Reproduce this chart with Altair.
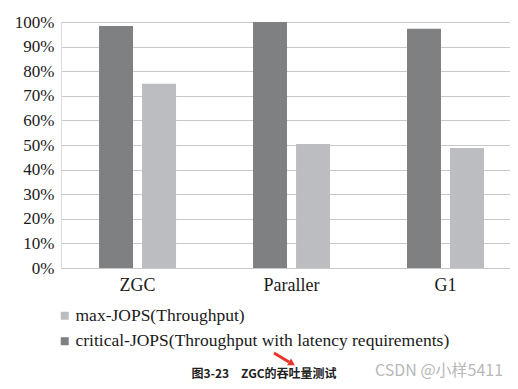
import altair as alt
import pandas as pd

categories = ["ZGC", "Paraller", "G1"]
series_names = ["max-JOPS(Throughput)", "critical-JOPS(Throughput with latency requirements)"]
max_jops = [0.749, 0.504, 0.488]
critical_jops = [0.984, 1.0, 0.973]
y_ticks = [0, 0.1, 0.2, 0.3, 0.4, 0.5, 0.6, 0.7, 0.8, 0.9, 1.0]
caption = "图3-23\u3000ZGC的吞吐量测试"
watermark = "CSDN @小样5411"

rows = []
for i, c in enumerate(categories):
    rows.append({"gc": c, "series": series_names[1], "value": critical_jops[i]})
    rows.append({"gc": c, "series": series_names[0], "value": max_jops[i]})
df = pd.DataFrame(rows)

SERIF = "Liberation Serif"

bars = alt.Chart(df).mark_bar().encode(
    x=alt.X("gc:N", sort=categories, title=None,
            scale=alt.Scale(paddingInner=0.5, paddingOuter=0.208, align=0.594),
            axis=alt.Axis(labelAngle=0, ticks=False, domain=True, domainColor="#c8c8c8",
                          labelFont=SERIF, labelFontSize=18, labelColor="#1a1a1a",
                          labelPadding=8, grid=False)),
    xOffset=alt.XOffset("series:N", sort=[series_names[1], series_names[0]],
                        scale=alt.Scale(paddingInner=0.21, paddingOuter=0)),
    y=alt.Y("value:Q", title=None, scale=alt.Scale(domain=[0, 1], nice=False),
            axis=alt.Axis(values=y_ticks, format=".0%", ticks=False, domain=False,
                          gridColor="#c8c8c8", gridWidth=1,
                          labelFont=SERIF, labelFontSize=17, labelColor="#1a1a1a",
                          labelPadding=7)),
    color=alt.Color("series:N",
                    scale=alt.Scale(domain=series_names, range=["#bcbdc0", "#7e8082"]),
                    legend=alt.Legend(title=None, orient="none", legendX=-5, legendY=285,
                                      direction="vertical", symbolType="square",
                                      symbolSize=64, symbolStrokeWidth=0,
                                      labelFont=SERIF, labelFontSize=17.5, labelColor="#1a1a1a",
                                      labelOffset=2, rowPadding=6.5, labelLimit=500,
                                      padding=0)),
)

cap_df = pd.DataFrame({"t": [caption]})
cap = alt.Chart(cap_df).mark_text(
    font="Noto Sans CJK SC", fontSize=12, fontWeight="bold", color="#222222",
    align="center", baseline="middle"
).encode(text="t:N", x=alt.value(203), y=alt.value(352))

wm_df = pd.DataFrame({"t": [watermark]})
wm = alt.Chart(wm_df).mark_text(
    font="Noto Sans CJK SC", fontSize=16, color="#b8b8b8",
    align="left", baseline="middle"
).encode(text="t:N", x=alt.value(314), y=alt.value(349))

arrow_line = alt.Chart(cap_df).mark_rule(color="#e8322a", strokeWidth=3).encode(
    x=alt.value(213), y=alt.value(331), x2=alt.value(228), y2=alt.value(340))
arrow_head = alt.Chart(cap_df).mark_point(
    shape="triangle", filled=True, color="#e8322a", size=60, angle=120, opacity=1
).encode(x=alt.value(230), y=alt.value(341))

chart = alt.layer(bars, cap, wm, arrow_line, arrow_head).properties(
    width=449, height=246,
    padding={"left": 53, "top": 14, "right": 0, "bottom": 115},
    autosize=alt.AutoSizeParams(type="none"),
).configure_view(stroke=None).configure(background="white")

chart.save("out.html", embed_options={"renderer": "svg", "actions": False})
